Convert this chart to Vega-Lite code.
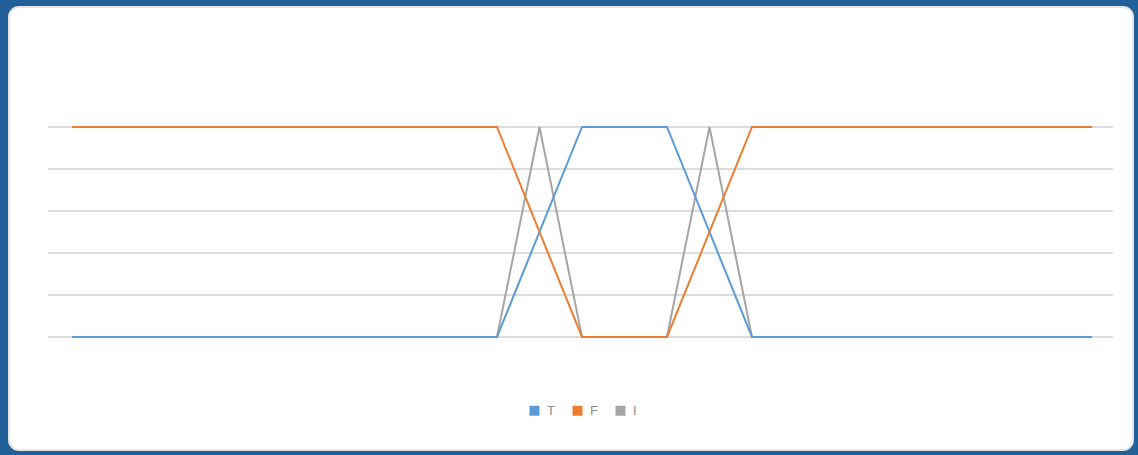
{
  "$schema": "https://vega.github.io/schema/vega-lite/v6.json",
  "width": 1124,
  "height": 443,
  "autosize": {"type": "none"},
  "padding": {"left": 9, "top": 7, "right": 5, "bottom": 5},
  "background": "#22609a",
  "config": {
    "view": {"fill": "white", "stroke": "#e6e6e6", "strokeWidth": 2, "cornerRadius": 10},
    "font": "Liberation Sans"
  },
  "datasets": {
    "series": [
      {"i": 0, "s": "T", "v": 0}, {"i": 1, "s": "T", "v": 0}, {"i": 2, "s": "T", "v": 0}, {"i": 3, "s": "T", "v": 0}, {"i": 4, "s": "T", "v": 0},
      {"i": 5, "s": "T", "v": 0}, {"i": 6, "s": "T", "v": 0}, {"i": 7, "s": "T", "v": 0}, {"i": 8, "s": "T", "v": 0}, {"i": 9, "s": "T", "v": 0},
      {"i": 10, "s": "T", "v": 0}, {"i": 11, "s": "T", "v": 0.5}, {"i": 12, "s": "T", "v": 1}, {"i": 13, "s": "T", "v": 1}, {"i": 14, "s": "T", "v": 1},
      {"i": 15, "s": "T", "v": 0.5}, {"i": 16, "s": "T", "v": 0}, {"i": 17, "s": "T", "v": 0}, {"i": 18, "s": "T", "v": 0}, {"i": 19, "s": "T", "v": 0},
      {"i": 20, "s": "T", "v": 0}, {"i": 21, "s": "T", "v": 0}, {"i": 22, "s": "T", "v": 0}, {"i": 23, "s": "T", "v": 0}, {"i": 24, "s": "T", "v": 0},
      {"i": 0, "s": "F", "v": 1}, {"i": 1, "s": "F", "v": 1}, {"i": 2, "s": "F", "v": 1}, {"i": 3, "s": "F", "v": 1}, {"i": 4, "s": "F", "v": 1},
      {"i": 5, "s": "F", "v": 1}, {"i": 6, "s": "F", "v": 1}, {"i": 7, "s": "F", "v": 1}, {"i": 8, "s": "F", "v": 1}, {"i": 9, "s": "F", "v": 1},
      {"i": 10, "s": "F", "v": 1}, {"i": 11, "s": "F", "v": 0.5}, {"i": 12, "s": "F", "v": 0}, {"i": 13, "s": "F", "v": 0}, {"i": 14, "s": "F", "v": 0},
      {"i": 15, "s": "F", "v": 0.5}, {"i": 16, "s": "F", "v": 1}, {"i": 17, "s": "F", "v": 1}, {"i": 18, "s": "F", "v": 1}, {"i": 19, "s": "F", "v": 1},
      {"i": 20, "s": "F", "v": 1}, {"i": 21, "s": "F", "v": 1}, {"i": 22, "s": "F", "v": 1}, {"i": 23, "s": "F", "v": 1}, {"i": 24, "s": "F", "v": 1},
      {"i": 0, "s": "I", "v": 0}, {"i": 1, "s": "I", "v": 0}, {"i": 2, "s": "I", "v": 0}, {"i": 3, "s": "I", "v": 0}, {"i": 4, "s": "I", "v": 0},
      {"i": 5, "s": "I", "v": 0}, {"i": 6, "s": "I", "v": 0}, {"i": 7, "s": "I", "v": 0}, {"i": 8, "s": "I", "v": 0}, {"i": 9, "s": "I", "v": 0},
      {"i": 10, "s": "I", "v": 0}, {"i": 11, "s": "I", "v": 1}, {"i": 12, "s": "I", "v": 0}, {"i": 13, "s": "I", "v": 0}, {"i": 14, "s": "I", "v": 0},
      {"i": 15, "s": "I", "v": 1}, {"i": 16, "s": "I", "v": 0}, {"i": 17, "s": "I", "v": 0}, {"i": 18, "s": "I", "v": 0}, {"i": 19, "s": "I", "v": 0},
      {"i": 20, "s": "I", "v": 0}, {"i": 21, "s": "I", "v": 0}, {"i": 22, "s": "I", "v": 0}, {"i": 23, "s": "I", "v": 0}, {"i": 24, "s": "I", "v": 0}
    ],
    "grid": [{"g": 0}, {"g": 0.2}, {"g": 0.4}, {"g": 0.6}, {"g": 0.8}, {"g": 1}]
  },
  "layer": [
    {
      "data": {"name": "grid"},
      "mark": {"type": "rule", "color": "#dcdcdc", "strokeWidth": 2},
      "encoding": {
        "y": {"field": "g", "type": "quantitative", "scale": {"domain": [-0.5381, 1.5714], "nice": false, "zero": false}, "axis": null},
        "x": {"datum": -0.565, "type": "quantitative", "scale": {"domain": [-1.482, 24.965], "nice": false, "zero": false}, "axis": null},
        "x2": {"datum": 24.49}
      }
    },
    {
      "data": {"name": "series"},
      "transform": [{"filter": "datum.s === 'I'"}],
      "mark": {"type": "line", "strokeWidth": 2},
      "encoding": {
        "x": {"field": "i", "type": "quantitative"},
        "y": {"field": "v", "type": "quantitative"},
        "color": {"field": "s", "type": "nominal"}
      }
    },
    {
      "data": {"name": "series"},
      "transform": [{"filter": "datum.s !== 'I'"}],
      "mark": {"type": "line", "strokeWidth": 2},
      "encoding": {
        "x": {"field": "i", "type": "quantitative"},
        "y": {"field": "v", "type": "quantitative"},
        "color": {
          "field": "s",
          "type": "nominal",
          "scale": {"domain": ["T", "F", "I"], "range": ["#5b9bd5", "#ed7d31", "#a5a5a5"]},
          "legend": {
            "title": null,
            "orient": "none",
            "direction": "horizontal",
            "legendX": 519,
            "legendY": 397,
            "symbolType": "square",
            "symbolSize": 100,
            "symbolStrokeWidth": 0,
            "labelFontSize": 13,
            "labelColor": "#8c8c8c",
            "columnPadding": 16,
            "labelOffset": 6,
            "encode": {
              "symbols": {"update": {"fill": {"scale": "color", "field": "value"}, "fillOpacity": {"value": 1}}}
            }
          }
        }
      }
    }
  ],
  "resolve": {"scale": {"color": "shared"}}
}
